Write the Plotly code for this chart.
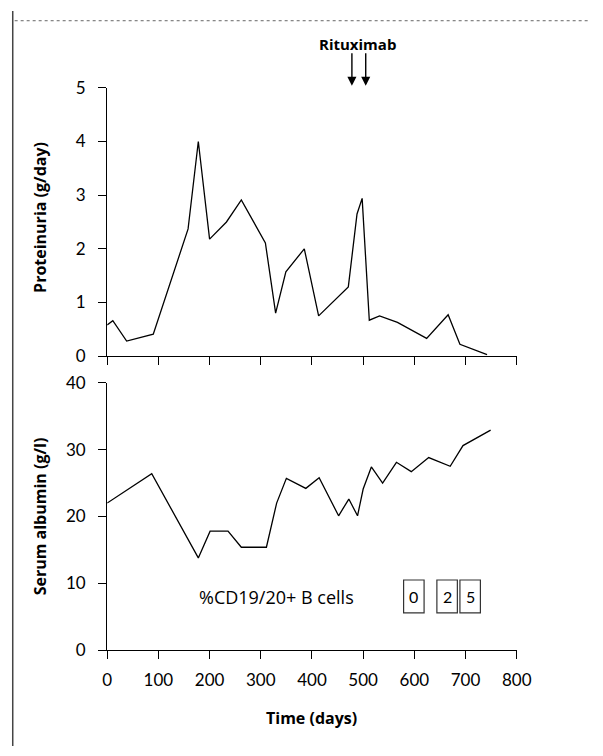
import plotly.graph_objects as go

# ---- data ----
prot_days = [0, 11, 38, 90, 158, 178, 200, 233, 262, 309, 329, 349, 385, 413, 471, 488, 498, 512, 532, 567, 624, 666, 689, 742]
prot_vals = [0.58, 0.66, 0.28, 0.41, 2.37, 4.0, 2.18, 2.50, 2.91, 2.11, 0.80, 1.57, 2.0, 0.75, 1.29, 2.65, 2.94, 0.67, 0.75, 0.63, 0.33, 0.77, 0.22, 0.03]

alb_days = [0, 87, 178, 201, 236, 262, 311, 331, 350, 388, 414, 452, 472, 489, 500, 516, 538, 565, 594, 628, 670, 695, 749]
alb_vals = [22.0, 26.4, 13.8, 17.8, 17.8, 15.4, 15.4, 22.0, 25.7, 24.2, 25.8, 20.1, 22.6, 20.1, 24.1, 27.4, 25.0, 28.1, 26.7, 28.8, 27.5, 30.6, 32.9]

rituximab_days = [478, 505]

bcell_days = [599, 664, 709]
bcell_labels = ["0", "2", "5"]

x_ticks = [0, 100, 200, 300, 400, 500, 600, 700, 800]
prot_ticks = [0, 1, 2, 3, 4, 5]
alb_ticks = [0, 10, 20, 30, 40]

W, H = 603, 756
FONT = "Lato"
TFONT = "Open Sans"

def px(x):
    return x / W

def py(y):
    return 1 - y / H

fig = go.Figure()
fig.add_trace(go.Scatter(x=prot_days, y=prot_vals, mode="lines",
                         line=dict(color="black", width=1.3), xaxis="x", yaxis="y",
                         showlegend=False, hoverinfo="skip"))
fig.add_trace(go.Scatter(x=alb_days, y=alb_vals, mode="lines",
                         line=dict(color="black", width=1.3), xaxis="x2", yaxis="y2",
                         showlegend=False, hoverinfo="skip"))

xdom = [px(105.7), px(529.3)]
axis_common = dict(showline=True, linecolor="black", linewidth=1.2, ticks="outside",
                   ticklen=8, tickwidth=1.2, tickcolor="black", showgrid=False,
                   zeroline=False, tickfont=dict(family=FONT, size=17, color="black"))

fig.update_layout(
    width=W, height=H, margin=dict(l=0, r=0, t=0, b=0),
    paper_bgcolor="white", plot_bgcolor="white",
    xaxis=dict(domain=xdom, range=[0, 800], tickvals=x_ticks, showticklabels=False,
               anchor="y", **axis_common),
    yaxis=dict(domain=[py(355), py(79)], range=[0, 5], tickvals=prot_ticks,
               anchor="x", ticklabelstandoff=9, **axis_common),
    xaxis2=dict(domain=xdom, range=[0, 800], tickvals=x_ticks, anchor="y2",
                ticklabelstandoff=6, **axis_common),
    yaxis2=dict(domain=[py(657.5), py(382.3)], range=[0, 40], tickvals=alb_ticks,
                anchor="x2", ticklabelstandoff=9, **axis_common),
)

C = dict(xanchor="center", yanchor="middle", showarrow=False)
ann = []
# axis titles
ann.append(dict(text="<b>Proteinuria (g/day)</b>", x=px(36), y=py(212), xref="paper", yref="paper",
                textangle=-90, font=dict(family=TFONT, size=16, color="black"), **C))
ann.append(dict(text="<b>Serum albumin (g/l)</b>", x=px(36), y=py(520), xref="paper", yref="paper",
                textangle=-90, font=dict(family=TFONT, size=16, color="black"), **C))
ann.append(dict(text="<b>Time (days)</b>", x=px(317), y=py(727), xref="paper", yref="paper",
                font=dict(family=TFONT, size=16, color="black"), **C))
ann.append(dict(text="<b>Rituximab</b>", x=px(365), y=py(34), xref="paper", yref="paper",
                font=dict(family=TFONT, size=15, color="black"), **C))
for d in rituximab_days:
    ann.append(dict(text="", x=d, y=py(77), xref="x", yref="paper", showarrow=True,
                    ax=0, ay=-34, arrowhead=2, arrowsize=1.3, arrowwidth=1.4, arrowcolor="black"))
ann.append(dict(text="%CD19/20+ B cells", x=331, y=8.0, xref="x2", yref="y2",
                font=dict(family=TFONT, size=18, color="black"), **C))

shapes = []
for d, lab in zip(bcell_days, bcell_labels):
    shapes.append(dict(type="rect", xref="x2", yref="y2", x0=d - 20, x1=d + 20, y0=5.6, y1=10.5,
                       line=dict(color="#333", width=1.2), fillcolor="rgba(0,0,0,0)"))
    ann.append(dict(text=lab, x=d, y=8.05, xref="x2", yref="y2",
                    font=dict(family=FONT, size=16, color="black"), **C))

# page frame
shapes.append(dict(type="line", xref="paper", yref="paper", x0=px(8), x1=px(8), y0=0, y1=1,
                   line=dict(color="#444", width=1.5)))
shapes.append(dict(type="line", xref="paper", yref="paper", x0=px(10), x1=1, y0=py(10), y1=py(10),
                   line=dict(color="#666", width=1, dash="dot")))

fig.update_layout(annotations=ann, shapes=shapes)
fig.write_html("out.html")
